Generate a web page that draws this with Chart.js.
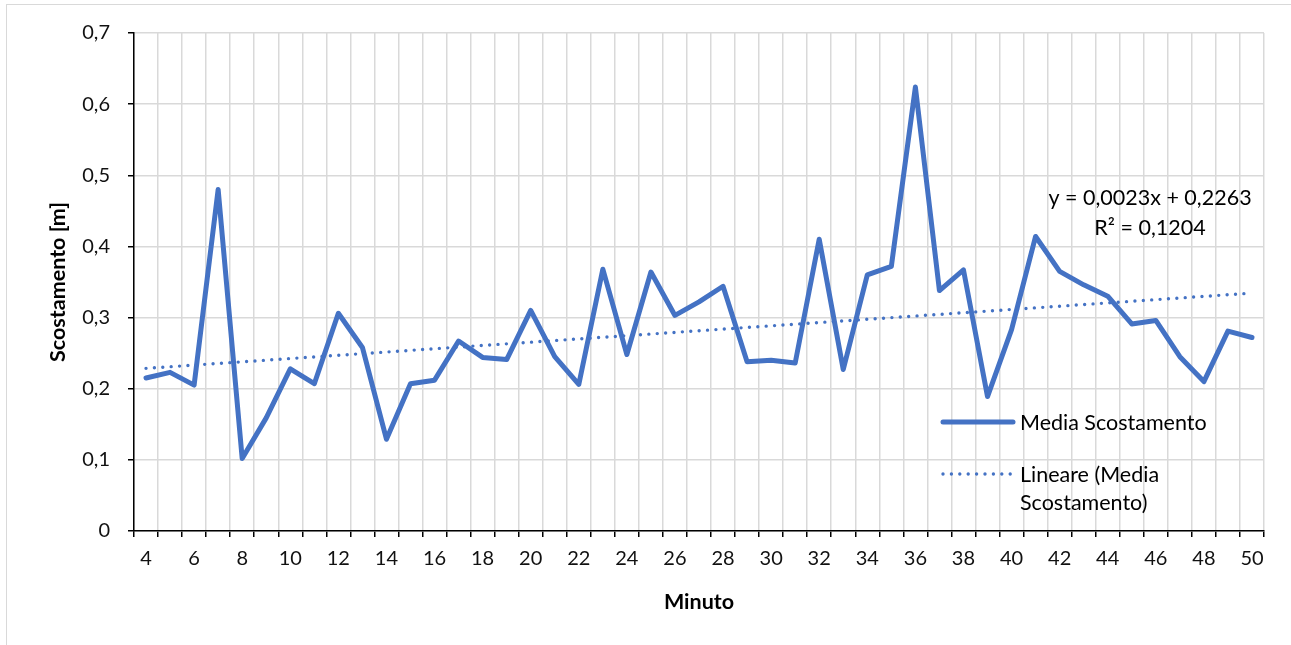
<!DOCTYPE html>
<html>
<head>
<meta charset="utf-8">
<title>Media Scostamento</title>
<script src="https://cdn.jsdelivr.net/npm/chart.js@4/dist/chart.umd.min.js"></script>
<style>
  html, body { margin: 0; padding: 0; background: #fff; }
  #wrap { position: relative; width: 1291px; height: 645px; overflow: hidden; }
  #frame { position: absolute; left: 6px; top: 4px; width: 1300px; height: 700px;
           border-left: 1.5px solid #d9d9d9; border-top: 1.5px solid #d9d9d9; }
  #chart { position: absolute; left: 0; top: 0; }
</style>
</head>
<body>
<div id="wrap">
  <div id="frame"></div>
  <canvas id="chart" width="1291" height="645"></canvas>
</div>
<script>
const minutes = [4, 5, 6, 7, 8, 9, 10, 11, 12, 13, 14, 15, 16, 17, 18, 19, 20, 21, 22, 23, 24, 25, 26, 27,
  28, 29, 30, 31, 32, 33, 34, 35, 36, 37, 38, 39, 40, 41, 42, 43, 44, 45, 46, 47, 48, 49, 50];

const mediaScostamento = [0.215, 0.223, 0.205, 0.480, 0.102, 0.159, 0.228, 0.207, 0.306, 0.258, 0.129, 0.207,
  0.212, 0.267, 0.244, 0.241, 0.310, 0.245, 0.206, 0.368, 0.248, 0.364, 0.303, 0.322,
  0.344, 0.238, 0.240, 0.236, 0.410, 0.227, 0.360, 0.372, 0.624, 0.338, 0.367, 0.189,
  0.283, 0.414, 0.365, 0.346, 0.330, 0.291, 0.296, 0.245, 0.210, 0.281, 0.272];

// Excel linear trendline (x = point index starting at 1)
const trendSlope = 0.0023;
const trendIntercept = 0.2263;
const trendR2 = 0.1204;

const yTicks = [0, 0.1, 0.2, 0.3, 0.4, 0.5, 0.6, 0.7];

const blue = '#4472C4';
const fontFam = 'Lato, "Noto Sans", sans-serif';

const itNum = v => String(v).replace('.', ',');
const trendValues = minutes.map((m, i) => trendSlope * (i + 1) + trendIntercept);

// legend + equation drawn inside the plot, like Excel
const insideLegend = {
  id: 'insideLegend',
  afterDraw(chart) {
    const ctx = chart.ctx;
    const a = chart.chartArea;
    ctx.save();
    ctx.font = '21.5px ' + fontFam;
    ctx.fillStyle = '#000';
    ctx.textBaseline = 'middle';

    // equation
    ctx.textAlign = 'center';
    ctx.fillText('y = ' + itNum(trendSlope) + 'x + ' + itNum(trendIntercept), a.right - 114, a.top + 165);
    ctx.fillText('R² = ' + itNum(trendR2), a.right - 114, a.top + 195);

    // legend samples
    const x0 = a.right - 321, x1 = a.right - 251;
    ctx.strokeStyle = blue;
    ctx.lineCap = 'round';
    ctx.lineWidth = 5;
    ctx.beginPath();
    ctx.moveTo(x0, a.bottom - 109);
    ctx.lineTo(x1, a.bottom - 109);
    ctx.stroke();

    ctx.lineWidth = 3.4;
    ctx.setLineDash([0, 8.4]);
    ctx.beginPath();
    ctx.moveTo(x0, a.bottom - 57);
    ctx.lineTo(x1, a.bottom - 57);
    ctx.stroke();
    ctx.setLineDash([]);

    ctx.textAlign = 'left';
    ctx.fillText('Media Scostamento', a.right - 244, a.bottom - 108);
    ctx.fillText('Lineare (Media', a.right - 244, a.bottom - 56);
    ctx.fillText('Scostamento)', a.right - 244, a.bottom - 28);
    ctx.restore();
  }
};

new Chart(document.getElementById('chart'), {
  type: 'line',
  data: {
    labels: minutes,
    datasets: [
      {
        label: 'Media Scostamento',
        data: mediaScostamento,
        borderColor: blue,
        backgroundColor: blue,
        borderWidth: 5,
        borderJoinStyle: 'round',
        borderCapStyle: 'round',
        pointRadius: 0,
        tension: 0,
        order: 2
      },
      {
        label: 'Lineare (Media Scostamento)',
        data: trendValues,
        borderColor: blue,
        borderWidth: 3.4,
        borderDash: [0, 8.4],
        borderCapStyle: 'round',
        pointRadius: 0,
        tension: 0,
        order: 1
      }
    ]
  },
  options: {
    responsive: false,
    animation: false,
    layout: { padding: { top: 33, right: 27, left: 0, bottom: 0 } },
    plugins: {
      legend: { display: false },
      tooltip: { enabled: false }
    },
    scales: {
      x: {
        offset: true,
        afterFit: s => { s.height = 114; },
        grid: { offset: true, color: '#d9d9d9', lineWidth: 1.5, tickColor: '#000', tickLength: 6 },
        border: { color: '#000', width: 1.5 },
        ticks: {
          autoSkip: false,
          maxRotation: 0,
          padding: 10,
          color: '#111',
          font: { family: fontFam, size: 20 },
          callback: function (v, i) { return minutes[i] % 2 === 0 ? String(minutes[i]) : ''; }
        },
        title: {
          display: true,
          text: 'Minuto',
          color: '#000',
          font: { family: fontFam, size: 21.5, weight: 'bold' },
          padding: { top: 0, bottom: 30 }
        }
      },
      y: {
        min: 0,
        max: 0.7,
        afterFit: s => { s.width = 134; },
        afterBuildTicks: s => { s.ticks = yTicks.map(v => ({ value: v })); },
        grid: { color: '#d9d9d9', lineWidth: 1.5, tickColor: '#000', tickLength: 6 },
        border: { color: '#000', width: 1.5 },
        ticks: {
          padding: 18,
          color: '#111',
          font: { family: fontFam, size: 20 },
          callback: v => v === 0 ? '0' : v.toFixed(1).replace('.', ',')
        },
        title: {
          display: true,
          text: 'Scostamento [m]',
          color: '#000',
          font: { family: fontFam, size: 21.5, weight: 'bold' },
          padding: { top: 45, bottom: 0 }
        }
      }
    }
  },
  plugins: [insideLegend]
});
</script>
</body>
</html>
